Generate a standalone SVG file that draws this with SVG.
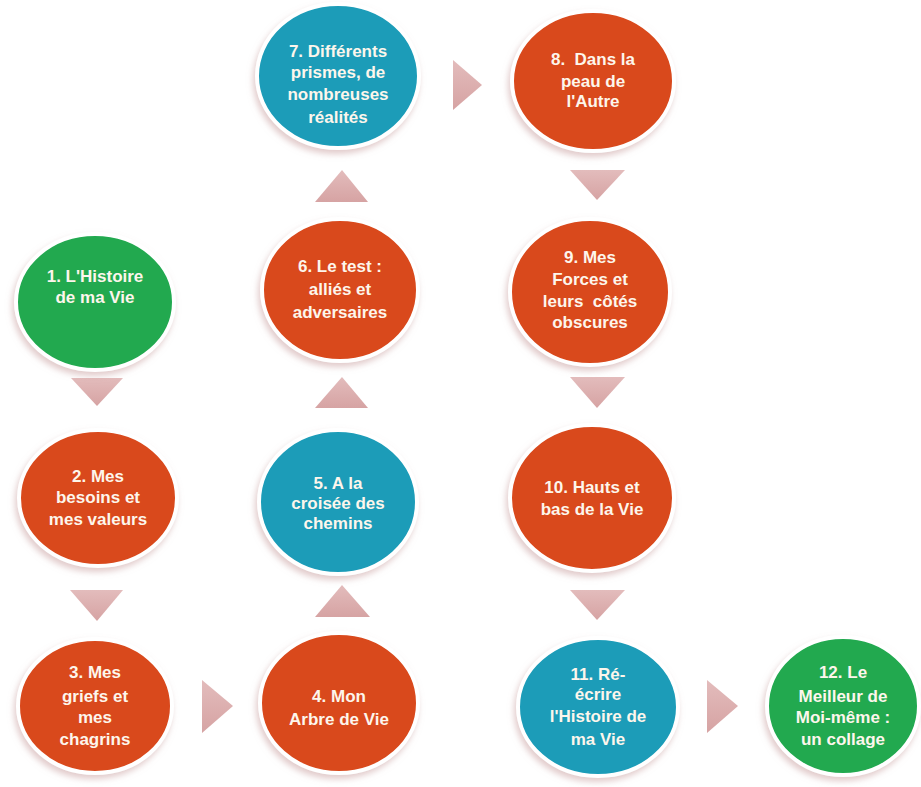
<svg xmlns="http://www.w3.org/2000/svg" width="921" height="787" viewBox="0 0 921 787">
<defs>
<filter id="sh" x="-20%" y="-20%" width="140%" height="150%">
<feGaussianBlur in="SourceAlpha" stdDeviation="3"/>
<feOffset dx="-2" dy="4" result="b"/>
<feFlood flood-color="#c9a0a0" flood-opacity="0.55"/>
<feComposite in2="b" operator="in"/>
<feMerge><feMergeNode/><feMergeNode in="SourceGraphic"/></feMerge>
</filter>
<linearGradient id="tg" x1="0" y1="0" x2="0" y2="1">
<stop offset="0" stop-color="#e3bcbc"/>
<stop offset="1" stop-color="#d6a3a3"/>
</linearGradient>
</defs>
<style>
.c{stroke:#ffffff;stroke-width:4;filter:url(#sh)}
.o{fill:#d9481b}
.b{fill:#1b9cb8}
.g{fill:#20a94f}
.t{font-family:"Liberation Sans",Arial,sans-serif;font-weight:bold;font-size:17px;fill:#fdf6ec;text-anchor:middle;white-space:pre}
.a{fill:url(#tg)}
</style>
<rect width="921" height="787" fill="#ffffff"/>
<g id="connectors">
<polygon class="a" points="71,378 123,378 97,406"/>
<polygon class="a" points="70,590 123,590 97,621"/>
<polygon class="a" points="202,680 202,733 233,706"/>
<polygon class="a" points="342,585 370,617 315,617"/>
<polygon class="a" points="342,377 368,408 315,408"/>
<polygon class="a" points="342,170 368,202 315,202"/>
<polygon class="a" points="453,60 453,110 482,85"/>
<polygon class="a" points="570,170 625,170 597,200"/>
<polygon class="a" points="570,377 625,377 597,408"/>
<polygon class="a" points="570,590 625,590 597,620"/>
<polygon class="a" points="707,680 707,733 738,706"/>
</g>
<g id="n1"><ellipse class="c g" cx="95" cy="302" rx="79" ry="68"/>
<text class="t" x="95" y="282">1. L'Histoire</text><text class="t" x="95" y="303">de ma Vie</text></g>
<g id="n2"><ellipse class="c o" cx="98" cy="498" rx="79" ry="68"/>
<text class="t" x="98" y="482">2. Mes</text><text class="t" x="98" y="503">besoins et</text><text class="t" x="98" y="525">mes valeurs</text></g>
<g id="n3"><ellipse class="c o" cx="95" cy="706" rx="77" ry="67"/>
<text class="t" x="95" y="678">3. Mes</text><text class="t" x="95" y="702">griefs et</text><text class="t" x="95" y="723">mes</text><text class="t" x="95" y="745">chagrins</text></g>
<g id="n4"><ellipse class="c o" cx="339" cy="703" rx="79" ry="70"/>
<text class="t" x="339" y="702">4. Mon</text><text class="t" x="339" y="725">Arbre de Vie</text></g>
<g id="n5"><ellipse class="c b" cx="338" cy="502" rx="79" ry="72"/>
<text class="t" x="338" y="489">5. A la</text><text class="t" x="338" y="509">croisée des</text><text class="t" x="338" y="529">chemins</text></g>
<g id="n6"><ellipse class="c o" cx="340" cy="290" rx="78" ry="71"/>
<text class="t" x="340" y="272">6. Le test :</text><text class="t" x="340" y="295">alliés et</text><text class="t" x="340" y="318">adversaires</text></g>
<g id="n7"><ellipse class="c b" cx="338" cy="76" rx="81" ry="72"/>
<text class="t" x="338" y="57">7. Différents</text><text class="t" x="338" y="78">prismes, de</text><text class="t" x="338" y="100">nombreuses</text><text class="t" x="338" y="123">réalités</text></g>
<g id="n8"><ellipse class="c o" cx="593" cy="81" rx="81" ry="70"/>
<text class="t" x="593" y="65">8.  Dans la</text><text class="t" x="593" y="87">peau de</text><text class="t" x="593" y="107">l'Autre</text></g>
<g id="n9"><ellipse class="c o" cx="590" cy="292" rx="80" ry="73"/>
<text class="t" x="590" y="263">9. Mes</text><text class="t" x="590" y="285">Forces et</text><text class="t" x="590" y="307">leurs  côtés</text><text class="t" x="590" y="328">obscures</text></g>
<g id="n10"><ellipse class="c o" cx="592" cy="498" rx="82" ry="73"/>
<text class="t" x="592" y="493">10. Hauts et</text><text class="t" x="592" y="515">bas de la Vie</text></g>
<g id="n11"><ellipse class="c b" cx="598" cy="707" rx="80" ry="69"/>
<text class="t" x="598" y="680">11. Ré-</text><text class="t" x="598" y="700">écrire</text><text class="t" x="598" y="722">l'Histoire de</text><text class="t" x="598" y="745">ma Vie</text></g>
<g id="n12"><ellipse class="c g" cx="843" cy="706" rx="76" ry="69"/>
<text class="t" x="843" y="678">12. Le</text><text class="t" x="843" y="702">Meilleur de</text><text class="t" x="843" y="723">Moi-même :</text><text class="t" x="843" y="745">un collage</text></g>
</svg>
